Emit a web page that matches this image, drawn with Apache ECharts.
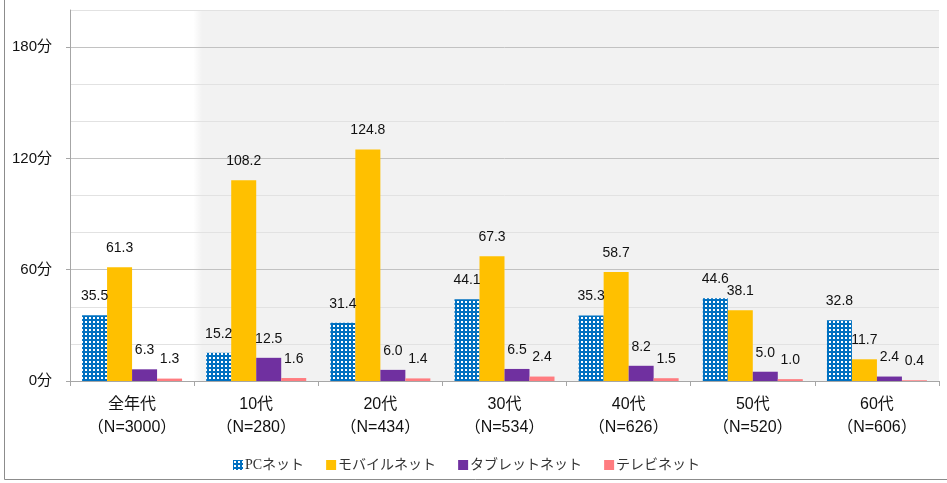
<!DOCTYPE html>
<html>
<head>
<meta charset="utf-8">
<script src="https://cdn.jsdelivr.net/npm/echarts@6/dist/echarts.min.js"></script>
<style>
  html, body { margin: 0; padding: 0; background: #fff; }
  #chart { width: 947px; height: 483px; }
</style>
</head>
<body>
<div id="chart"></div>
<script>
// Age groups and sample sizes
const categories = ['全年代', '10代', '20代', '30代', '40代', '50代', '60代'];
const sampleSizes = ['3000', '280', '434', '534', '626', '520', '606'];

// Average minutes per device
const pcNet = [35.5, 15.2, 31.4, 44.1, 35.3, 44.6, 32.8];
const mobileNet = [61.3, 108.2, 124.8, 67.3, 58.7, 38.1, 11.7];
const tabletNet = [6.3, 12.5, 6.0, 6.5, 8.2, 5.0, 2.4];
const tvNet = [1.3, 1.6, 1.4, 2.4, 1.5, 1.0, 0.4];

const seriesNames = ['PCネット', 'モバイルネット', 'タブレットネット', 'テレビネット'];
const yTicks = [0, 60, 120, 180];

// Dotted fill for the PC bars: blue with small white squares
function dotPattern() {
  const c = document.createElement('canvas');
  c.width = 4; c.height = 4;
  const g = c.getContext('2d');
  g.fillStyle = '#0070C0';
  g.fillRect(0, 0, 4, 4);
  g.fillStyle = '#ffffff';
  g.fillRect(1, 1, 2, 2);
  return { image: c, repeat: 'repeat' };
}

const labelFont = "'Liberation Sans', 'Noto Sans CJK JP', sans-serif";
const valueLabel = {
  show: true,
  position: 'top',
  distance: 12,
  fontSize: 14,
  color: '#111',
  fontFamily: labelFont,
  formatter: p => p.value.toFixed(1)
};

function barSeries(name, data, color) {
  return {
    name: name,
    type: 'bar',
    data: data,
    barWidth: 25,
    barGap: '0%',
    yAxisIndex: 0,
    itemStyle: { color: color },
    label: valueLabel,
    emphasis: { disabled: true }
  };
}

const chart = echarts.init(document.getElementById('chart'), null, { renderer: 'canvas' });

chart.setOption({
  animation: false,
  backgroundColor: '#ffffff',
  grid: {
    left: 70, top: 10, right: 8, bottom: 102,
    show: true,
    borderWidth: 0,
    backgroundColor: new echarts.graphic.LinearGradient(0, 0, 1, 0, [
      { offset: 0, color: '#ffffff' },
      { offset: 0.142, color: '#ffffff' },
      { offset: 0.152, color: '#f2f2f2' },
      { offset: 1, color: '#f2f2f2' }
    ])
  },
  legend: {
    left: 228,
    top: 453,
    itemWidth: 10,
    itemHeight: 10,
    itemGap: 22,
    icon: 'rect',
    textStyle: {
      fontSize: 14,
      color: '#333',
      fontFamily: "'Liberation Serif', 'Noto Sans CJK JP', serif",
      padding: [0, 0, 0, -3]
    },
    data: seriesNames
  },
  xAxis: {
    type: 'category',
    data: categories,
    axisLine: { lineStyle: { color: '#a6a6a6', width: 1 } },
    axisTick: { show: true, length: 5, lineStyle: { color: '#a6a6a6' } },
    axisLabel: {
      margin: 12,
      fontSize: 16,
      lineHeight: 23,
      color: '#111',
      fontFamily: labelFont,
      formatter: (v, i) => v + '\n（N=' + sampleSizes[i] + '）'
    }
  },
  yAxis: [
    {
      // labelled axis with ticks every 60 minutes
      type: 'value',
      min: 0,
      max: 200,
      interval: 20,
      axisLine: { show: true, lineStyle: { color: '#a6a6a6', width: 1 } },
      axisTick: { show: true, length: 4, customValues: yTicks, lineStyle: { color: '#a6a6a6' } },
      axisLabel: {
        customValues: yTicks,
        margin: 18,
        fontSize: 15,
        color: '#111',
        fontFamily: labelFont,
        formatter: v => v + '分'
      },
      splitLine: { show: false }
    },
    {
      // gridlines every 20 minutes, darker every 60
      type: 'value',
      position: 'left',
      min: 0,
      max: 200,
      interval: 20,
      axisLine: { show: false },
      axisTick: { show: false },
      axisLabel: { show: false },
      splitLine: {
        show: true,
        lineStyle: { color: ['#c2c2c2', '#e2e2e2', '#e2e2e2'], width: 1 }
      }
    }
  ],
  series: [
    barSeries(seriesNames[0], pcNet, dotPattern()),
    barSeries(seriesNames[1], mobileNet, '#FFC000'),
    barSeries(seriesNames[2], tabletNet, '#7030A0'),
    barSeries(seriesNames[3], tvNet, '#FF7C80')
  ],
  graphic: [
    { type: 'line', shape: { x1: 4.5, y1: 0, x2: 4.5, y2: 479.5 }, style: { stroke: '#8c8c8c', lineWidth: 1 }, silent: true },
    { type: 'line', shape: { x1: 4.5, y1: 479.5, x2: 947, y2: 479.5 }, style: { stroke: '#8c8c8c', lineWidth: 1 }, silent: true }
  ]
});
</script>
</body>
</html>
